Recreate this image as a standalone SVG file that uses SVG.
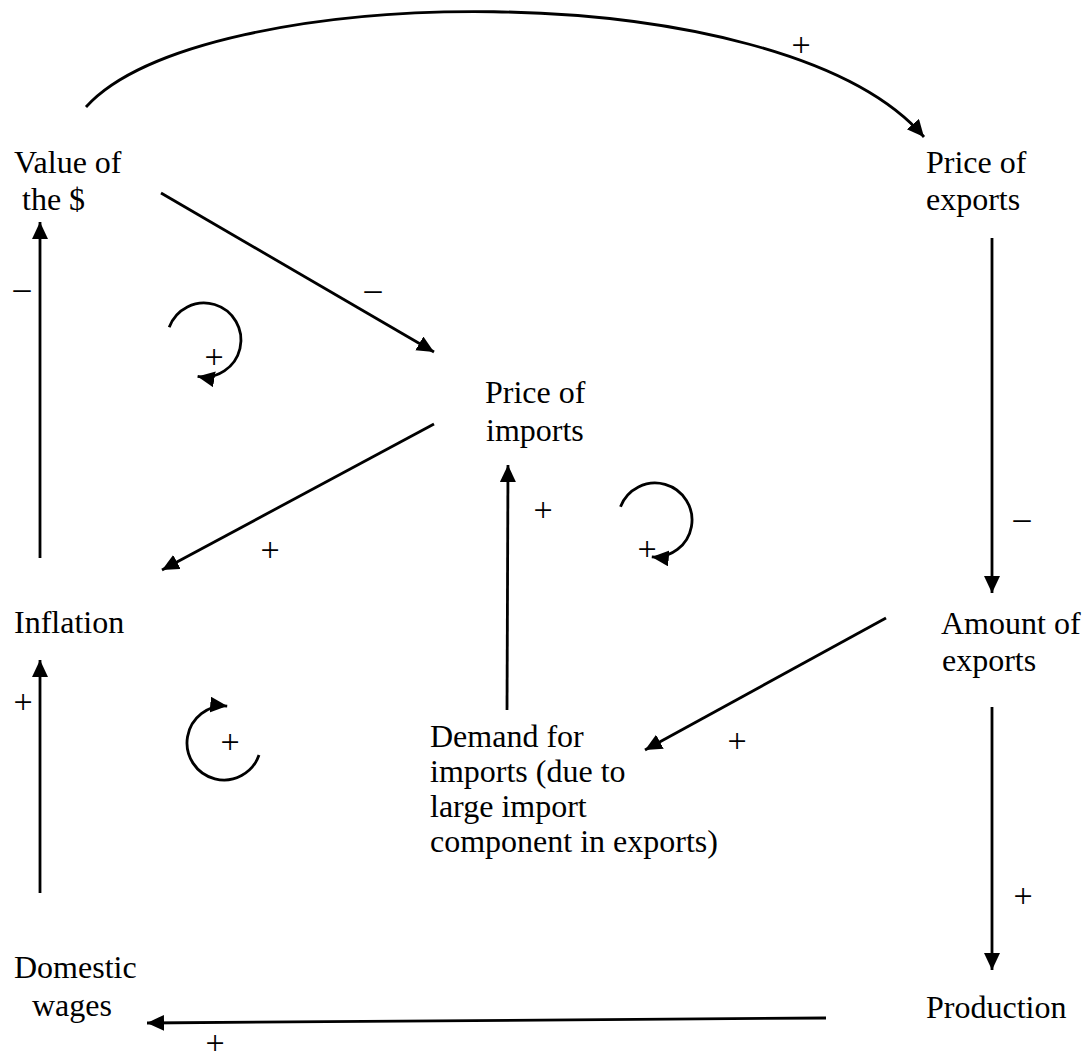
<svg xmlns="http://www.w3.org/2000/svg" width="1086" height="1060" viewBox="0 0 1086 1060">
  <style>
    .lbl { font-family: "Liberation Serif", "Times New Roman", serif; font-size: 32px; fill: #000; }
    .sign { font-family: "Liberation Serif", "Times New Roman", serif; font-size: 34px; fill: #000; text-anchor: middle; }
    .link { fill: none; stroke: #000; stroke-width: 2.8; stroke-linecap: butt; }
  </style>
  <defs>
    <marker id="arrow" markerUnits="userSpaceOnUse" markerWidth="19" markerHeight="18" refX="17" refY="8" orient="auto">
      <path d="M0,0 L17,8 L0,16 Z" fill="#000"/>
    </marker>
  </defs>
  <rect width="1086" height="1060" fill="#fff"/>

  <!-- connectors -->
  <g id="connectors">
    <path class="link" d="M86,107 C200,-20 780,-30 924,137" marker-end="url(#arrow)"/>
    <path class="link" d="M161,193 L434,352" marker-end="url(#arrow)"/>
    <path class="link" d="M40,558 L40,222" marker-end="url(#arrow)"/>
    <path class="link" d="M434,424 L162,570" marker-end="url(#arrow)"/>
    <path class="link" d="M507,710 L508,465" marker-end="url(#arrow)"/>
    <path class="link" d="M992,238 L992,593" marker-end="url(#arrow)"/>
    <path class="link" d="M886,618 L645,750" marker-end="url(#arrow)"/>
    <path class="link" d="M992,707 L992,970" marker-end="url(#arrow)"/>
    <path class="link" d="M826,1018 L147,1023" marker-end="url(#arrow)"/>
    <path class="link" d="M40,893 L40,660" marker-end="url(#arrow)"/>
    <!-- feedback loops (circular arcs, r = 37) -->
    <path class="link" d="M169.2,327.3 A37,37 0 1 1 197.6,376.4" marker-end="url(#arrow)"/>
    <path class="link" d="M620.5,506.7 A37,37 0 1 1 651.8,556.9" marker-end="url(#arrow)"/>
    <path class="link" d="M259,755 A37,37 0 1 1 227.2,706.1" marker-end="url(#arrow)"/>
  </g>

  <!-- polarity signs -->
  <g id="signs">
    <text class="sign" x="801" y="56">+</text>
    <text class="sign" x="373" y="300">–</text>
    <text class="sign" x="22" y="299">–</text>
    <text class="sign" x="214" y="368">+</text>
    <text class="sign" x="270" y="561">+</text>
    <text class="sign" x="543" y="521">+</text>
    <text class="sign" x="647" y="560">+</text>
    <text class="sign" x="1022" y="529">–</text>
    <text class="sign" x="737" y="752">+</text>
    <text class="sign" x="1023" y="907">+</text>
    <text class="sign" x="23" y="713">+</text>
    <text class="sign" x="230" y="753">+</text>
    <text class="sign" x="215" y="1054">+</text>
  </g>

  <!-- nodes -->
  <g id="value-of-dollar">
    <text class="lbl" x="14" y="173">Value of</text>
    <text class="lbl" x="22" y="210">the $</text>
  </g>
  <g id="price-of-exports">
    <text class="lbl" x="926" y="173">Price of</text>
    <text class="lbl" x="926" y="210">exports</text>
  </g>
  <g id="price-of-imports">
    <text class="lbl" x="485" y="403">Price of</text>
    <text class="lbl" x="486" y="441">imports</text>
  </g>
  <g id="inflation">
    <text class="lbl" x="14" y="633">Inflation</text>
  </g>
  <g id="amount-of-exports">
    <text class="lbl" x="941" y="634">Amount of</text>
    <text class="lbl" x="942" y="671">exports</text>
  </g>
  <g id="demand-for-imports">
    <text class="lbl" x="430" y="747">Demand for</text>
    <text class="lbl" x="430" y="782">imports (due to</text>
    <text class="lbl" x="430" y="817">large import</text>
    <text class="lbl" x="430" y="852">component in exports)</text>
  </g>
  <g id="domestic-wages">
    <text class="lbl" x="14" y="978">Domestic</text>
    <text class="lbl" x="32" y="1016">wages</text>
  </g>
  <g id="production">
    <text class="lbl" x="926" y="1018">Production</text>
  </g>
</svg>
